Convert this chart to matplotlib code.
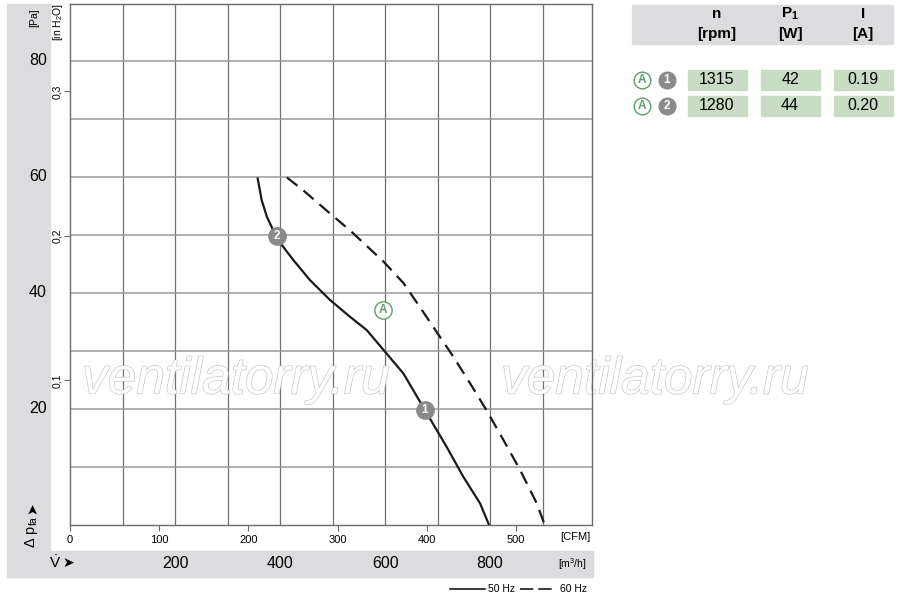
import matplotlib
matplotlib.use("Agg")
import matplotlib.pyplot as plt
import matplotlib.transforms as mtransforms
import matplotlib.patheffects as pe
from matplotlib.patches import Rectangle

plt.rcParams['font.family'] = ['Liberation Sans Narrow', 'Liberation Sans', 'DejaVu Sans']
plt.rcParams['mathtext.default'] = 'regular'

# fan curves: flow in m3/h, pressure in Pa
flow_50 = [357, 365, 375, 387, 403, 425, 457, 495, 533, 565, 594, 635, 685, 717, 749, 781, 798]
pres_50 = [59.9, 56.0, 53.1, 50.8, 48.3, 45.7, 42.2, 38.8, 35.9, 33.6, 30.5, 26.1, 18.4, 13.5, 8.3, 3.7, 0]
flow_60 = [413, 444, 495, 533, 597, 635, 666, 698, 730, 762, 793, 825, 857, 889, 904]
pres_60 = [59.9, 57.7, 53.7, 50.8, 45.4, 41.7, 37.6, 33.3, 29.0, 24.4, 19.8, 14.7, 9.5, 3.7, 0]

# operating points
point_labels = ['1', '2']
point_flow = [676, 394]
point_pres = [19.8, 49.8]
a_flow = 596
a_pres = 37

# axes labels
pa_ticks = [20, 40, 60, 80]
inh2o_ticks = [0.1, 0.2, 0.3]
cfm_ticks = [0, 100, 200, 300, 400, 500]
m3h_ticks = [200, 400, 600, 800]
grid_x = [100, 200, 300, 400, 500, 600, 700, 800, 900]
grid_y = [10, 20, 30, 40, 50, 60, 70, 80]

# table
col_heads = [('n', '[rpm]'), ('P$_1$', '[W]'), ('I', '[A]')]
rows = [['1315', '42', '0.19'], ['1280', '44', '0.20']]

W, H = 900, 600
fig = plt.figure(figsize=(9, 6), dpi=100)


def fx(px):
    return px / W


def fy(py):
    return 1 - py / H


# grey bands
band = '#dcdcde'
fig.patches.append(Rectangle((fx(7), fy(551)), fx(50) - fx(7), fy(4) - fy(551),
                             transform=fig.transFigure, color=band, zorder=0))
fig.patches.append(Rectangle((fx(7), fy(577)), fx(593) - fx(7), fy(551) - fy(577),
                             transform=fig.transFigure, color=band, zorder=0))
fig.patches.append(Rectangle((fx(632), fy(44)), fx(893) - fx(632), fy(5) - fy(44),
                             transform=fig.transFigure, color=band, zorder=0))

ax = fig.add_axes([fx(70), fy(525), fx(592) - fx(70), fy(4) - fy(525)])
ax.set_xlim(0, 994)
ax.set_ylim(0, 89.8)
for s in ax.spines.values():
    s.set_color('#6a6a6a')
    s.set_linewidth(1)

for gx in grid_x:
    ax.axvline(gx, color='#707070', lw=0.9, zorder=1)
for gy in grid_y:
    ax.axhline(gy, color='#9a9a9a', lw=1.1, zorder=1)

# CFM ticks on bottom axis
ax.set_xticks([c * 1.699 for c in cfm_ticks])
ax.set_xticklabels([str(c) for c in cfm_ticks])
ax.tick_params(axis='x', direction='out', length=4, width=0.8, color='#6a6a6a',
               labelsize=8, pad=3)
# inH2O ticks on left axis
ax.set_yticks([v * 249.09 for v in inh2o_ticks])
ax.set_yticklabels([str(v).replace('.', ',') for v in inh2o_ticks], rotation=90, va='center')
ax.tick_params(axis='y', direction='out', length=4, width=0.8, color='#6a6a6a',
               labelsize=7.5, pad=2)

# watermark
for cx in [236, 655]:
    ax.text(fx(cx), fy(380), 'ventilatorry.ru', transform=fig.transFigure,
            ha='center', va='center', fontsize=37, style='italic',
            family=['Liberation Sans', 'DejaVu Sans'], color='white', zorder=2,
            clip_on=False,
            path_effects=[pe.withStroke(linewidth=0.9, foreground='#c4c4c4')])

# curves
ax.plot(flow_50, pres_50, color='#1a1a1a', lw=1.6, zorder=3, solid_capstyle='butt',
        solid_joinstyle='round')
ax.plot(flow_60, pres_60, color='#1a1a1a', lw=1.6, zorder=3, linestyle=(0, (6, 3.5)))

for lab, px, py in zip(point_labels, point_flow, point_pres):
    ax.plot(px, py, 'o', ms=12.5, color='#8a8a8a', zorder=4, clip_on=False)
    ax.text(px, py, lab, ha='center', va='center', color='white', fontsize=8.5,
            fontweight='bold', zorder=5)
ax.plot(a_flow, a_pres, 'o', ms=12.5, mfc='white', mec='#5f9e6e', mew=1, zorder=4)
ax.text(a_flow, a_pres, 'A', ha='center', va='center', color='#5f9e6e',
        fontsize=8.5, fontweight='bold', zorder=5)

# left labels
ty = mtransforms.blended_transform_factory(fig.transFigure, ax.transData)
for p in pa_ticks:
    fig.text(fx(38), p, str(p), transform=ty, ha='center', va='center', fontsize=11.5)
fig.text(fx(34), fy(18), '[Pa]', rotation=90, ha='center', va='center', fontsize=7.5)
fig.text(fx(58), fy(22), '[in H$_2$O]', rotation=90, ha='center', va='center', fontsize=7.5)
fig.text(fx(32), fy(532), r'$\Delta$ p$_{fa}$', rotation=90, ha='center', va='center',
         fontsize=10.5)
fig.text(fx(32), fy(508), '➤', rotation=90, ha='center', va='center', fontsize=10,
         family=['DejaVu Sans'])

# bottom band labels
tx = mtransforms.blended_transform_factory(ax.transData, fig.transFigure)
for m in m3h_ticks:
    fig.text(m, fy(563), str(m), transform=tx, ha='center', va='center', fontsize=11.5)
fig.text(fx(55), fy(563), r'$\dot{V}$', ha='center', va='center', fontsize=11)
fig.text(fx(68), fy(563), '➤', ha='center', va='center', fontsize=10,
         family=['DejaVu Sans'])
fig.text(fx(572), fy(564), '[m$^3$/h]', ha='center', va='center', fontsize=7.5)
fig.text(fx(575), fy(537), '[CFM]', ha='center', va='center', fontsize=8)

# legend
fig.lines.append(plt.Line2D([fx(450), fx(485)], [fy(589), fy(589)], transform=fig.transFigure,
                            color='#1a1a1a', lw=1.2))
fig.text(fx(488), fy(589), '50 Hz', ha='left', va='center', fontsize=7.5)
fig.lines.append(plt.Line2D([fx(520), fx(556)], [fy(589), fy(589)], transform=fig.transFigure,
                            color='#1a1a1a', lw=1.2, linestyle=(0, (8, 3))))
fig.text(fx(560), fy(589), '60 Hz', ha='left', va='center', fontsize=7.5)

# table
col_x = [717, 790, 863]
for (h1, h2), cx in zip(col_heads, col_x):
    fig.text(fx(cx), fy(14), h1, ha='center', va='center', fontsize=11, fontweight='bold')
    fig.text(fx(cx), fy(34), h2, ha='center', va='center', fontsize=11, fontweight='bold')

row_y = [80, 106]
cell_w = 59
for r, (vals, ry) in enumerate(zip(rows, row_y)):
    for v, cx in zip(vals, col_x):
        fig.patches.append(Rectangle((fx(cx - cell_w / 2), fy(ry + 10)), cell_w / W, 20 / H,
                                     transform=fig.transFigure, color='#c8dcc4', zorder=0))
        fig.text(fx(cx), fy(ry), v, ha='center', va='center', fontsize=11.5)
    fig.lines.append(plt.Line2D([fx(642)], [fy(ry)], marker='o', ms=12, mfc='white',
                                mec='#5f9e6e', mew=1, transform=fig.transFigure))
    fig.text(fx(642), fy(ry), 'A', ha='center', va='center', color='#5f9e6e',
             fontsize=8.5, fontweight='bold')
    fig.lines.append(plt.Line2D([fx(667)], [fy(ry)], marker='o', ms=12, color='#8a8a8a',
                                transform=fig.transFigure))
    fig.text(fx(667), fy(ry), point_labels[r], ha='center', va='center', color='white',
             fontsize=8.5, fontweight='bold')

fig.savefig('out.png', dpi=100)
